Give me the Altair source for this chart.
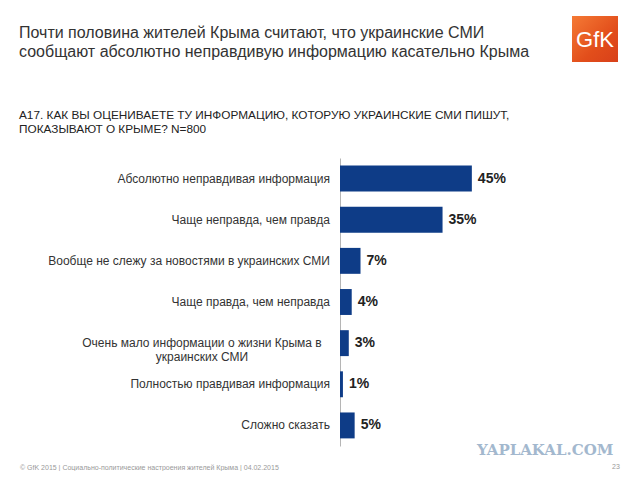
import altair as alt
import pandas as pd

# ---- data ----
categories = [
    "Абсолютно неправдивая информация",
    "Чаще неправда, чем правда",
    "Вообще не слежу за новостями в украинских СМИ",
    "Чаще правда, чем неправда",
    "Очень мало информации о жизни Крыма в\nукраинских СМИ",
    "Полностью правдивая информация",
    "Сложно сказать",
]
values = [45, 35, 7, 4, 3, 1, 5]

title_lines = [
    "Почти половина жителей Крыма считают, что украинские СМИ",
    "сообщают абсолютно неправдивую информацию касательно Крыма",
]
question_lines = [
    "А17. КАК ВЫ ОЦЕНИВАЕТЕ ТУ ИНФОРМАЦИЮ, КОТОРУЮ УКРАИНСКИЕ СМИ ПИШУТ,",
    "ПОКАЗЫВАЮТ О КРЫМЕ? N=800",
]
footer_text = "© GfK 2015 | Социально-политические настроения жителей Крыма | 04.02.2015"
page_number = "23"
logo_text = "GfK"
watermark_text = "YAPLAKAL.COM"

FONT = "Liberation Sans"
BAR_COLOR = "#0E3C87"

df = pd.DataFrame({"category": categories, "value": values})
df["multiline"] = df["category"].str.contains("\n")
one = pd.DataFrame({"t": [0]})

W, H = 146.5, 288

yscale = alt.Scale(domain=categories, paddingInner=0.37, paddingOuter=0.185)
xscale = alt.Scale(domain=[0, 50])

base = alt.Chart(df)

bars = base.mark_bar(color=BAR_COLOR).encode(
    x=alt.X("value:Q", scale=xscale, axis=None),
    y=alt.Y("category:N", scale=yscale,
            axis=alt.Axis(labels=False, ticks=False, title=None, grid=False,
                          domainColor="#b5b5b5", domainWidth=1)),
)

value_labels = base.transform_calculate(
    label="datum.value + '%'"
).mark_text(align="left", baseline="middle", dx=6, font=FONT, fontSize=14,
            fontWeight="bold", color="#222222").encode(
    x=alt.X("value:Q", scale=xscale),
    y=alt.Y("category:N", scale=yscale),
    text="label:N",
)

cat_labels = base.transform_filter("!datum.multiline").mark_text(
    align="right", baseline="middle", font=FONT, fontSize=12, color="#333333"
).encode(
    x=alt.value(-10),
    y=alt.Y("category:N", scale=yscale),
    text="category:N",
)

cat_labels_ml = base.transform_filter("datum.multiline").mark_text(
    align="center", baseline="middle", font=FONT, fontSize=12, color="#333333",
    lineBreak="\n", lineHeight=14
).encode(
    x=alt.value(-138),
    y=alt.Y("category:N", scale=yscale),
    text="category:N",
)

title = alt.Chart(one).mark_text(
    text=title_lines, align="left", baseline="alphabetic", font=FONT,
    fontSize=16, lineHeight=19, color="#333333"
).encode(x=alt.value(-321), y=alt.value(-120))

question = alt.Chart(one).mark_text(
    text=question_lines, align="left", baseline="alphabetic", font=FONT,
    fontSize=11.8, lineHeight=14, color="#222222"
).encode(x=alt.value(-321), y=alt.value(-39))

logo_box = alt.Chart(one).mark_rect(
    color=alt.Gradient(
        gradient="linear", x1=0, y1=0, x2=1, y2=1,
        stops=[alt.GradientStop(color="#F57A35", offset=0),
               alt.GradientStop(color="#E24E1B", offset=0.6),
               alt.GradientStop(color="#D8401A", offset=1)],
    )
).encode(x=alt.value(232), x2=alt.value(278), y=alt.value(-142), y2=alt.value(-96))

logo = alt.Chart(one).mark_text(
    text=logo_text, align="center", baseline="middle", font=FONT,
    fontSize=22, color="#ffffff"
).encode(x=alt.value(255), y=alt.value(-118))

watermark = alt.Chart(one).mark_text(
    text=watermark_text, align="left", baseline="alphabetic", font="DejaVu Serif",
    fontSize=15, fontWeight="bold", color="#A3B8CE"
).encode(x=alt.value(137), y=alt.value(297))

footer = alt.Chart(one).mark_text(
    text=footer_text, align="left", baseline="alphabetic", font=FONT,
    fontSize=7, color="#999999"
).encode(x=alt.value(-320), y=alt.value(312))

page = alt.Chart(one).mark_text(
    text=page_number, align="left", baseline="alphabetic", font=FONT,
    fontSize=7, color="#999999"
).encode(x=alt.value(272), y=alt.value(311))

chart = alt.layer(
    bars, value_labels, cat_labels, cat_labels_ml,
    title, question, logo_box, logo, watermark, footer, page
).properties(
    width=W, height=H,
    autosize=alt.AutoSizeParams(type="none"),
    padding={"left": 332, "top": 150, "right": 145, "bottom": 25},
    background="#ffffff",
).configure_view(stroke=None)

chart.save("out.html", embed_options={"renderer": "svg", "actions": False})
